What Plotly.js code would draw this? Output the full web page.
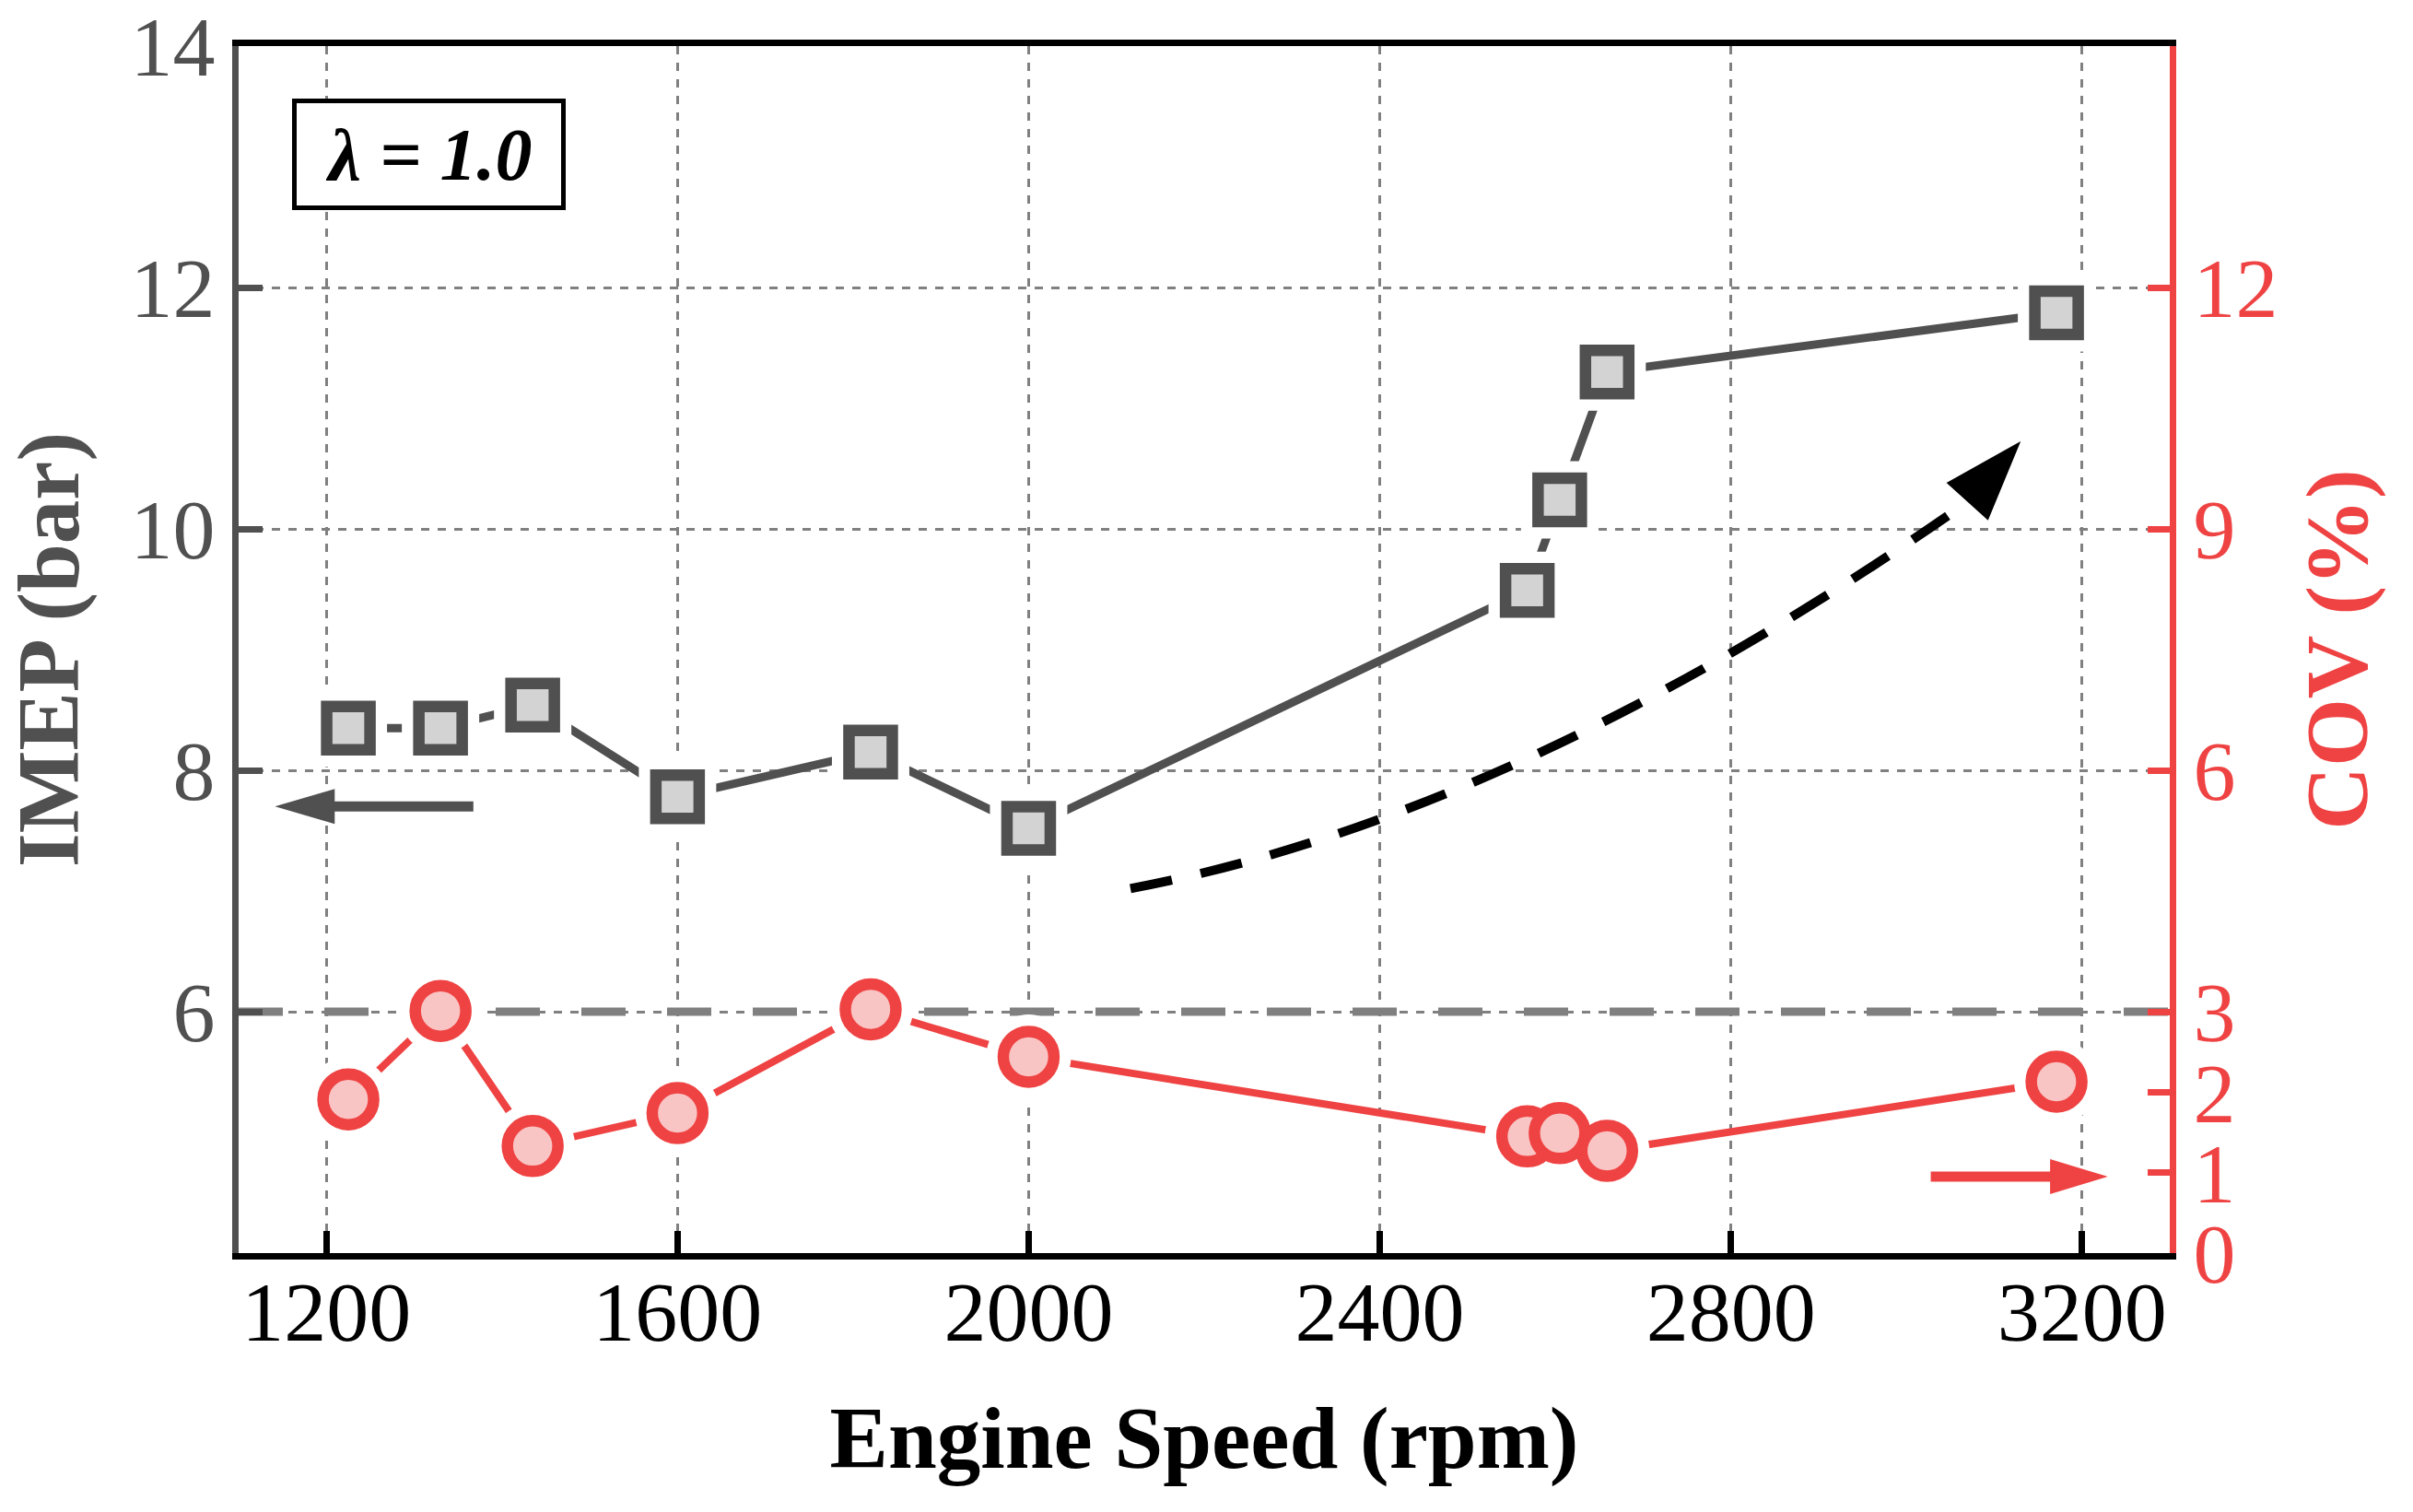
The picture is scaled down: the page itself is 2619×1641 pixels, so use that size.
<!DOCTYPE html>
<html><head><meta charset="utf-8">
<script src="https://cdn.plot.ly/plotly-3.0.1.min.js"></script>
<style>html,body{margin:0;padding:0;background:#fff}#chart{width:2619px;height:1641px}</style>
</head><body><div id="chart"></div>
<script>
// ---- data ----
const engineSpeed = [1225, 1330, 1435, 1600, 1820, 2000, 2568, 2605, 2659, 3171];
const imep = [8.35, 8.35, 8.54, 7.78, 8.15, 7.52, 9.49, 10.24, 11.30, 11.79];
const cov = [1.91, 3.01, 1.33, 1.74, 3.03, 2.44, 1.45, 1.49, 1.27, 2.13];
const xTickVals = [1200, 1600, 2000, 2400, 2800, 3200];
const imepTickVals = [6, 8, 10, 12, 14];
const covTickVals = [0, 1, 2, 3, 6, 9, 12];
const covLimit = 3;
const lambdaLabel = 'λ = 1.0';
// decorative arrows: anchor points in data units, sizes in pixels
const trendStart = [2116, 7.02], trendCtrl = [2560, 7.63], trendEnd = [3071, 10.23], trendTip = [3127, 10.70];
const imepArrowTip = [1147, 7.70], imepArrowLen = 210;
const covArrowTip = [3224, 0.95], covArrowLen = 187;

const FONT = 'Liberation Serif, Times New Roman, serif';
const GRAY = '#505050', RED = '#ef4343', PINK = '#f9c4c4', SQFILL = '#d3d3d3';

const traces = [
  {x: engineSpeed, y: imep, type: 'scatter', mode: 'lines', yaxis: 'y',
   line: {color: GRAY, width: 9}, hoverinfo: 'skip', showlegend: false},
  {x: engineSpeed, y: imep, type: 'scatter', mode: 'markers', yaxis: 'y',
   marker: {symbol: 'square', size: 84, color: '#ffffff', line: {width: 0}}, hoverinfo: 'skip', showlegend: false},
  {x: engineSpeed, y: imep, type: 'scatter', mode: 'markers', yaxis: 'y', name: 'IMEP',
   marker: {symbol: 'square', size: 47, color: SQFILL, line: {color: GRAY, width: 12.5}}, showlegend: false},
  {x: engineSpeed, y: cov, type: 'scatter', mode: 'lines', yaxis: 'y2',
   line: {color: RED, width: 8}, hoverinfo: 'skip', showlegend: false},
  {x: engineSpeed, y: cov, type: 'scatter', mode: 'markers', yaxis: 'y2',
   marker: {symbol: 'circle', size: 92, color: '#ffffff', line: {width: 0}}, hoverinfo: 'skip', showlegend: false},
  {x: engineSpeed, y: cov, type: 'scatter', mode: 'markers', yaxis: 'y2', name: 'COV',
   marker: {symbol: 'circle', size: 55, color: PINK, line: {color: RED, width: 12.5}}, showlegend: false}
];

function pixShape(tip, yref, extra) {
  return Object.assign({xref: 'x', yref: yref, xsizemode: 'pixel', ysizemode: 'pixel',
    xanchor: tip[0], yanchor: tip[1]}, extra);
}

const layout = {
  width: 2619, height: 1641,
  paper_bgcolor: '#ffffff', plot_bgcolor: '#ffffff',
  margin: {l: 259, r: 264, t: 50, b: 281, pad: 0},
  font: {family: FONT},
  showlegend: false,
  xaxis: {
    range: [1100, 3300], tickvals: xTickVals, ticktext: xTickVals.map(String),
    ticks: 'inside', ticklen: 24, tickwidth: 7, tickcolor: '#000',
    showline: true, linecolor: '#000', linewidth: 7, mirror: true,
    showgrid: true, gridcolor: '#808080', gridwidth: 3, griddash: '9px,9px', zeroline: false,
    tickfont: {family: FONT, size: 92, color: '#000'}, ticklabelstandoff: -22,
    title: {text: '<b>Engine Speed (rpm)</b>', font: {family: FONT, size: 95, color: '#000'}, standoff: 55}
  },
  yaxis: {
    range: [4, 14], tickvals: imepTickVals, ticktext: imepTickVals.map(String),
    ticks: 'inside', ticklen: 26, tickwidth: 7, tickcolor: GRAY,
    showline: true, linecolor: GRAY, linewidth: 7,
    showgrid: true, gridcolor: '#808080', gridwidth: 3, griddash: '9px,9px', zeroline: false,
    tickfont: {family: FONT, size: 92, color: GRAY},
    title: {text: '<b>IMEP (bar)</b>', font: {family: FONT, size: 95, color: GRAY}, standoff: 30}
  },
  yaxis2: {
    overlaying: 'y', side: 'right', range: [0, 15], tickvals: covTickVals, ticktext: covTickVals.map(String),
    ticks: 'inside', ticklen: 24, tickwidth: 7, tickcolor: RED,
    showline: true, linecolor: RED, linewidth: 7,
    showgrid: false, zeroline: false,
    tickfont: {family: FONT, size: 92, color: RED},
    title: {text: '<b>COV (%)</b>', font: {family: FONT, size: 95, color: RED}, standoff: 34}
  },
  shapes: [
    {type: 'line', xref: 'paper', x0: 0, x1: 1, yref: 'y2', y0: covLimit, y1: covLimit, layer: 'below',
     line: {color: '#808080', width: 9, dash: '48px,45px'}},
    {type: 'path', xref: 'x', yref: 'y',
     path: `M ${trendStart[0]},${trendStart[1]} Q ${trendCtrl[0]},${trendCtrl[1]} ${trendEnd[0]},${trendEnd[1]}`,
     line: {color: '#000', width: 10, dash: '46px,32px'}},
    pixShape(trendTip, 'y', {type: 'path', path: 'M 0,0 L -75,-42 L -33,-80 Z', fillcolor: '#000', line: {color: '#000', width: 3}}),
    pixShape(imepArrowTip, 'y', {type: 'line', x0: 45, x1: imepArrowLen, y0: 0, y1: 0, line: {color: GRAY, width: 11}}),
    pixShape(imepArrowTip, 'y', {type: 'path', path: 'M 0,0 L 58,17 L 58,-17 Z', fillcolor: GRAY, line: {color: GRAY, width: 3}}),
    pixShape(covArrowTip, 'y2', {type: 'line', x0: -covArrowLen, x1: -45, y0: 0, y1: 0, line: {color: RED, width: 11}}),
    pixShape(covArrowTip, 'y2', {type: 'path', path: 'M 0,0 L -56,17 L -56,-17 Z', fillcolor: RED, line: {color: RED, width: 3}})
  ],
  annotations: [
    {xref: 'paper', yref: 'paper', x: 0.0985, y: 0.9103, xanchor: 'center', yanchor: 'middle',
     text: '<b><i>' + lambdaLabel + '</i></b>', showarrow: false,
     font: {family: FONT, size: 80, color: '#000'},
     bordercolor: '#000', borderwidth: 5, borderpad: 0, width: 287, height: 111, bgcolor: '#fff'}
  ]
};

Plotly.newPlot('chart', traces, layout, {displayModeBar: false, staticPlot: true});
</script>
</body></html>
